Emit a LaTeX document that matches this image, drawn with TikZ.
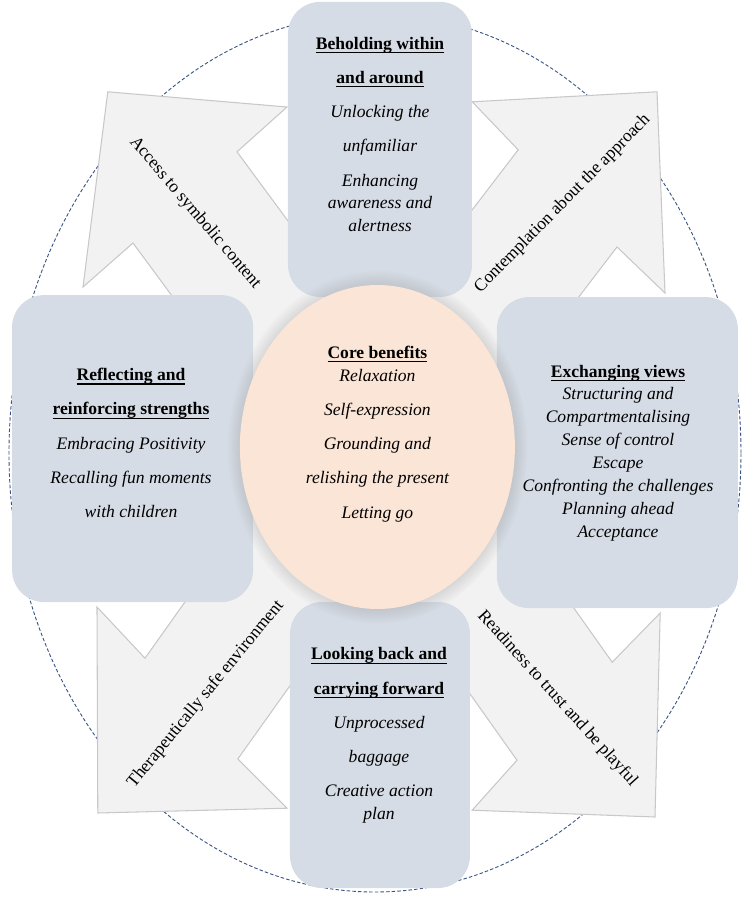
\documentclass[tikz,border=0pt]{standalone}
\usepackage{fontspec}
\setmainfont{Liberation Serif}
\usepackage{xcolor}
\usetikzlibrary{positioning,shapes,shadows}

\definecolor{boxblue}{HTML}{D6DCE5}
\definecolor{corepeach}{HTML}{FBE5D6}
\definecolor{arrowgrey}{HTML}{F2F2F2}
\definecolor{arrowline}{HTML}{C8C8C8}
\definecolor{ringblue}{HTML}{3A5583}
\newcommand{\heading}[1]{\textbf{\upshape\setbox0\hbox{#1}\rlap{\rule[-2.8pt]{\wd0}{0.9pt}}\box0}}

\begin{document}
\begin{tikzpicture}[line width=0.75pt, every node/.style={font=\fontsize{12.5}{16.3}\selectfont, align=center, inner sep=0pt, outer sep=0pt},
  theme/.style={rectangle, rounded corners=0.8cm, fill=boxblue, draw=none},
  core/.style={ellipse, fill=corepeach, draw=none, circular drop shadow={shadow xshift=0pt, shadow yshift=0pt, shadow scale=1.09, opacity=0.4}},
  ring/.style={ellipse, draw=ringblue, line width=0.65pt, dash pattern=on 2.5pt off 1.5pt},
  bigarrow/.style={fill=arrowgrey, draw=arrowline, line join=miter},
  itemtext/.style={font=\fontsize{12.5}{16.3}\selectfont\itshape}]
  \useasboundingbox (-9.375,-11.225) rectangle (9.375,11.225);

  % Dashed ring around the whole cycle
  \node[ring, minimum width=18.3cm, minimum height=21.95cm] (ring) at (0,-0.1) {};

  % Four block arrows pointing out from the centre (shafts hidden under the boxes)
  \draw[bigarrow] (-6.68,8.93) -- (-2.2,8.55) -- (-3.45,7.43) -- (1.3,0.99) -- (-1.3,-1.29) -- (-6.05,5.15) -- (-7.3,4.05) -- cycle;
  \draw[bigarrow] (7.05,8.93) -- (2.43,8.68) -- (3.58,7.48) -- (-1.18,1.26) -- (1.3,-1.16) -- (6.05,5.05) -- (7.25,3.9) -- cycle;
  \draw[bigarrow] (-6.93,-9.1) -- (-6.95,-3.95) -- (-5.75,-5.23) -- (-1.1,1.31) -- (1.23,-1.21) -- (-3.43,-7.75) -- (-2.2,-8.98) -- cycle;
  \draw[bigarrow] (7.0,-9.2) -- (7.13,-4.1) -- (5.93,-5.33) -- (1.25,1.28) -- (-1.13,-1.18) -- (3.55,-7.78) -- (2.43,-9.03) -- cycle;

  % Arrow labels
  \node[rotate=-49.6] (symbolic) at (-4.5,5.9) {Access to symbolic content};
  \node[rotate=45.5] (approach) at (4.69,6.13) {Contemplation about the approach};
  \node[rotate=50.7] (safe) at (-4.23,-6.13) {Therapeutically safe environment};
  \node[rotate=-47.9] (playful) at (4.56,-6.24) {Readiness to trust and be playful};

  % Theme boxes
  \node[theme, minimum width=4.6cm, minimum height=7.375cm] (behold) at (0.125,7.49) {};
  \node[theme, minimum width=6.025cm, minimum height=7.675cm] (reflect) at (-6.06,0.01) {};
  \node[theme, minimum width=6.025cm, minimum height=7.775cm] (exchange) at (6.06,-0.09) {};
  \node[theme, minimum width=4.5cm, minimum height=7.15cm] (lookback) at (0.125,-7.4) {};

  % Centre ellipse
  \node[core, minimum width=6.875cm, minimum height=8.1cm] (core) at (0.06,0.05) {};

  % Box and centre texts
  \node[itemtext] (beholdtxt) at (0.125,7.86) {\heading{Beholding within}\\[8pt] \heading{and around}\\[8pt] Unlocking the\\[8pt] unfamiliar\\[8pt] Enhancing\\ awareness and\\ alertness};
  \node[itemtext] (reflecttxt) at (-6.1,0.15) {\heading{Reflecting and}\\[8pt] \heading{reinforcing strengths}\\[8pt] Embracing Positivity\\[8pt] Recalling fun moments\\[8pt] with children};
  \node[itemtext] (exchangetxt) at (6.075,-0.1) {\heading{Exchanging views}\\ Structuring and\\ Compartmentalising\\ Sense of control\\ Escape\\ Confronting the challenges\\ Planning ahead\\ Acceptance};
  \node[itemtext] (lookbacktxt) at (0.1,-7.16) {\heading{Looking back and}\\[8pt] \heading{carrying forward}\\[8pt] Unprocessed\\[8pt] baggage\\[8pt] Creative action\\ plan};
  \node[itemtext] (coretxt) at (0.06,0.375) {\heading{Core benefits}\\ Relaxation\\[8pt] Self-expression\\[8pt] Grounding and\\[8pt] relishing the present\\[8pt] Letting go};
\end{tikzpicture}
\end{document}
